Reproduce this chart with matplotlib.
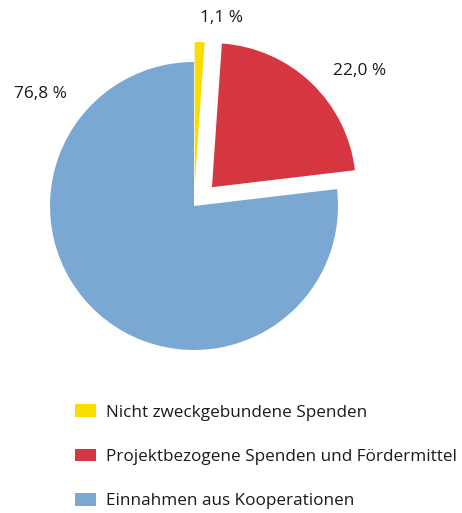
import matplotlib
matplotlib.use("Agg")
import matplotlib.pyplot as plt
from matplotlib.patches import Patch

plt.rcParams['font.family'] = ['Open Sans', 'DejaVu Sans']

categories = ["Nicht zweckgebundene Spenden",
              "Projektbezogene Spenden und Fördermittel",
              "Einnahmen aus Kooperationen"]
shares = [1.1, 22.0, 76.8]
colors = ["#F9DC00", "#D63640", "#7BA7D3"]
explode = [20, 26, 0]   # in pixels (pie is drawn in pixel coordinates)

fig = plt.figure(figsize=(4.62, 5.13), dpi=100)
ax = fig.add_axes([0, 0, 1, 1])

wedges, _ = ax.pie(shares, colors=colors, explode=explode, startangle=90,
                   counterclock=False, radius=144, center=(194, 513 - 206),
                   frame=True)
ax.set_xlim(0, 462)
ax.set_ylim(0, 513)
ax.axis('off')

# percentage labels (placed as in the original)
label_pos = [(222, 18), (360, 71), (40, 94)]
for v, (x, y) in zip(shares, label_pos):
    ax.text(x, 513 - y, f"{v:.1f} %".replace('.', ','), ha='center', va='center',
            fontsize=12.4, color='#1a1a1a')

handles = [Patch(facecolor=c, edgecolor='none') for c in colors]
ax.legend(handles, categories, loc='upper left', bbox_to_anchor=(60 / 462, 1 - 389 / 513),
          frameon=False, fontsize=12.3, handlelength=1.2, handleheight=0.75,
          labelspacing=1.65, handletextpad=0.6, labelcolor='#1a1a1a')

fig.savefig("out.png", dpi=100)
